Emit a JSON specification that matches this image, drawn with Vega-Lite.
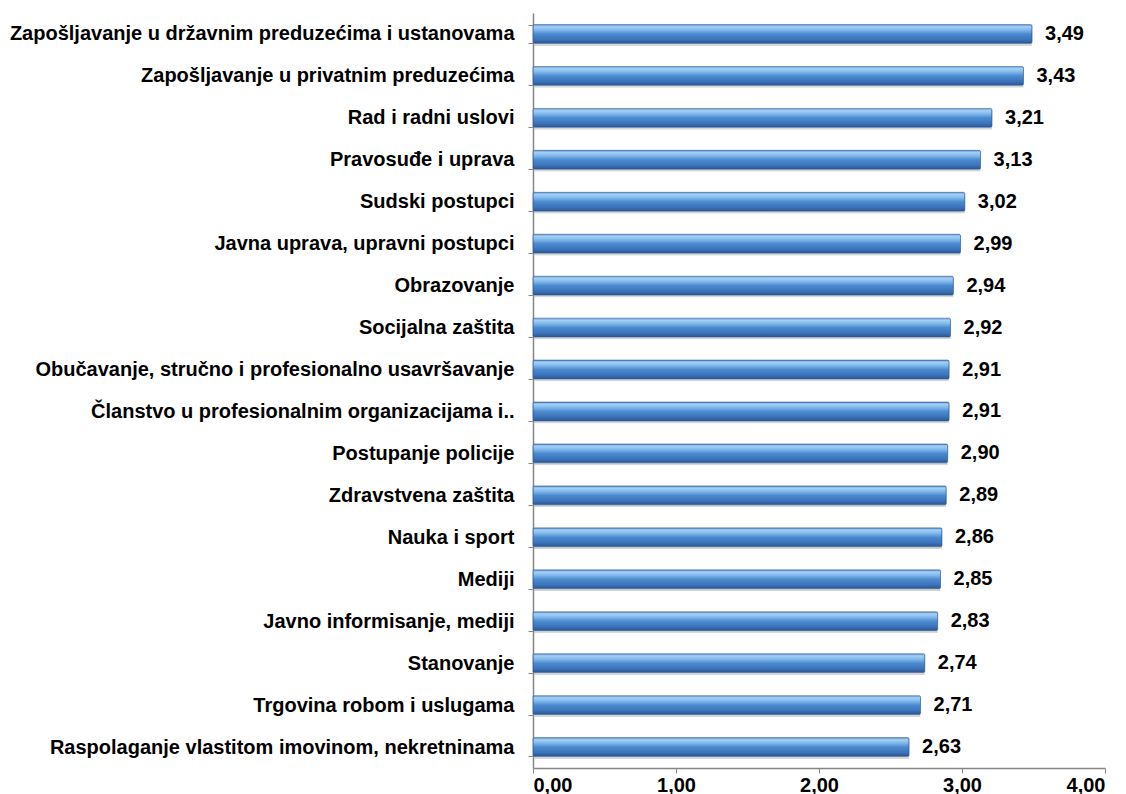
{
  "$schema": "https://vega.github.io/schema/vega-lite/v6.json",
  "autosize": {"type": "none"},
  "width": 572,
  "height": 755,
  "padding": {"left": 533, "top": 13, "right": 21, "bottom": 26},
  "background": "white",
  "config": {
    "locale": {"number": {"decimal": ",", "thousands": ".", "grouping": [3], "currency": ["", ""]}},
    "view": {"stroke": null},
    "font": "Liberation Sans"
  },
  "data": {
    "values": [
      {"oblast": "Zapošljavanje u državnim preduzećima i ustanovama", "ocena": 3.49},
      {"oblast": "Zapošljavanje u privatnim preduzećima", "ocena": 3.43},
      {"oblast": "Rad i radni uslovi", "ocena": 3.21},
      {"oblast": "Pravosuđe i uprava", "ocena": 3.13},
      {"oblast": "Sudski postupci", "ocena": 3.02},
      {"oblast": "Javna uprava, upravni postupci", "ocena": 2.99},
      {"oblast": "Obrazovanje", "ocena": 2.94},
      {"oblast": "Socijalna zaštita", "ocena": 2.92},
      {"oblast": "Obučavanje, stručno i profesionalno usavršavanje", "ocena": 2.91},
      {"oblast": "Članstvo u profesionalnim organizacijama i..", "ocena": 2.91},
      {"oblast": "Postupanje policije", "ocena": 2.90},
      {"oblast": "Zdravstvena zaštita", "ocena": 2.89},
      {"oblast": "Nauka i sport", "ocena": 2.86},
      {"oblast": "Mediji", "ocena": 2.85},
      {"oblast": "Javno informisanje, mediji", "ocena": 2.83},
      {"oblast": "Stanovanje", "ocena": 2.74},
      {"oblast": "Trgovina robom i uslugama", "ocena": 2.71},
      {"oblast": "Raspolaganje vlastitom imovinom, nekretninama", "ocena": 2.63}
    ]
  },
  "encoding": {
    "y": {
      "field": "oblast",
      "type": "nominal",
      "sort": null,
      "scale": {"paddingInner": 0.55, "paddingOuter": 0.275},
      "axis": {
        "title": null,
        "tickBand": "extent",
        "tickSize": 5,
        "tickColor": "#868686",
        "domainColor": "#868686",
        "domainWidth": 1.5,
        "labelPadding": 14,
        "labelFont": "Liberation Sans",
        "labelFontWeight": "bold",
        "labelFontSize": 20,
        "labelColor": "#000000",
        "labelLimit": 600
      }
    },
    "x": {
      "field": "ocena",
      "type": "quantitative",
      "scale": {"domain": [0, 4], "nice": false},
      "axis": {
        "title": null,
        "values": [0, 1, 2, 3, 4],
        "format": ".2f",
        "grid": false,
        "tickSize": 5,
        "tickColor": "#868686",
        "domainColor": "#868686",
        "domainWidth": 1.5,
        "labelPadding": 2,
        "labelBaseline": "top",
        "labelFont": "Liberation Sans",
        "labelFontWeight": "bold",
        "labelFontSize": 20,
        "labelColor": "#000000"
      }
    }
  },
  "layer": [
    {
      "mark": {"type": "bar", "color": "#8c8c8c", "opacity": 0.35, "yOffset": 2.5, "xOffset": 1.5, "cornerRadius": 1}
    },
    {
      "mark": {
        "type": "bar",
        "cornerRadius": 1.5,
        "stroke": "#2f5d99",
        "strokeWidth": 0.6,
        "color": {
          "gradient": "linear",
          "x1": 0, "y1": 0, "x2": 0, "y2": 1,
          "stops": [
            {"offset": 0, "color": "#6b9dd6"},
            {"offset": 0.12, "color": "#a3d0f5"},
            {"offset": 0.3, "color": "#7eb6ea"},
            {"offset": 0.5, "color": "#4c8bd0"},
            {"offset": 0.8, "color": "#3b72b9"},
            {"offset": 1, "color": "#2a5590"}
          ]
        }
      }
    },
    {
      "mark": {"type": "text", "align": "left", "baseline": "middle", "dx": 13, "font": "Liberation Sans", "fontWeight": "bold", "fontSize": 20, "color": "#000000"},
      "encoding": {"text": {"field": "ocena", "type": "quantitative", "format": ".2f"}}
    }
  ]
}
